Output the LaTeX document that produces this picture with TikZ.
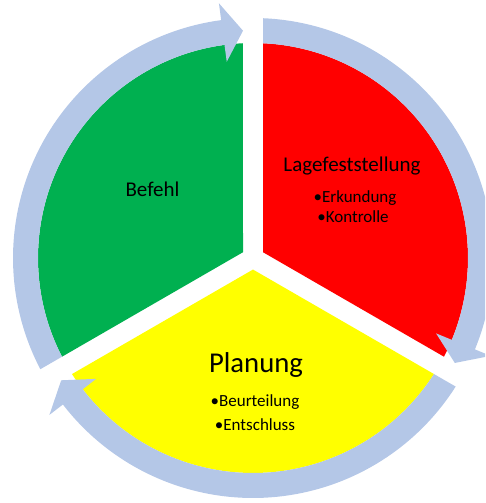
\documentclass[tikz,border=0pt]{standalone}
\usepackage{fontspec}
\setmainfont{Carlito}
\usepackage{tikz}

\definecolor{befehlgreen}{HTML}{00B050}
\definecolor{lagered}{HTML}{FF0000}
\definecolor{planyellow}{HTML}{FFFF00}
\definecolor{ringblue}{HTML}{B4C7E7}

\tikzset{
  ringarrow/.style={fill=ringblue},
  phasetitle/.style={font=\fontsize{21}{25}\selectfont, anchor=base, inner sep=0pt},
  phasebig/.style={font=\fontsize{28.7}{34}\selectfont, anchor=base, inner sep=0pt},
  phaseitem/.style={font=\fontsize{17}{20}\selectfont, anchor=base, inner sep=0pt}
}

\begin{document}
\begin{tikzpicture}[x=1pt,y=1pt]
  \useasboundingbox (0,0) rectangle (485,503);
  \clip (0,0) rectangle (485,503);
  \begin{scope}[shift={(253,245)}]
    % sectors
    \fill[befehlgreen] (150:11.55) -- (92.67:215) arc[start angle=92.67,end angle=207.33,radius=215] -- cycle;
    \fill[lagered] (30:11.55) -- (87.33:215) arc[start angle=87.33,end angle=-27.33,radius=215] -- cycle;
    \fill[planyellow] (270:11.55) -- (-32.67:215) arc[start angle=-32.67,end angle=-147.33,radius=215] -- cycle;
    % ring arrows
    \fill[ringarrow] (207.61:240) arc[start angle=207.61,end angle=97.62,radius=240] -- (97.62:257) -- (92.52:227.5) -- (97.62:198) -- (97.62:215) arc[start angle=97.62,end angle=207.33,radius=215] -- cycle;
    \fill[ringarrow] (87.61:240) arc[start angle=87.61,end angle=-22.38,radius=240] -- (-22.38:257) -- (-27.48:227.5) -- (-22.38:198) -- (-22.38:215) arc[start angle=-22.38,end angle=87.33,radius=215] -- cycle;
    \fill[ringarrow] (-32.39:240) arc[start angle=-32.39,end angle=-142.38,radius=240] -- (-142.38:257) -- (-147.48:227.5) -- (-142.38:198) -- (-142.38:215) arc[start angle=-142.38,end angle=-32.67,radius=215] -- cycle;
  \end{scope}
  % texts
  \node[phasetitle] (befehl) at (152.5,306.3) {Befehl};
  \node[phasetitle] (lage) at (352,331) {Lagefeststellung};
  \node[phaseitem] (erkundung) at (355,300.3) {•Erkundung};
  \node[phaseitem] (kontrolle) at (353,280.3) {•Kontrolle};
  \node[phasebig] (planung) at (256,130) {Planung};
  \node[phaseitem] (beurteilung) at (255,96.3) {•Beurteilung};
  \node[phaseitem] (entschluss) at (255,72.3) {•Entschluss};
\end{tikzpicture}
\end{document}
